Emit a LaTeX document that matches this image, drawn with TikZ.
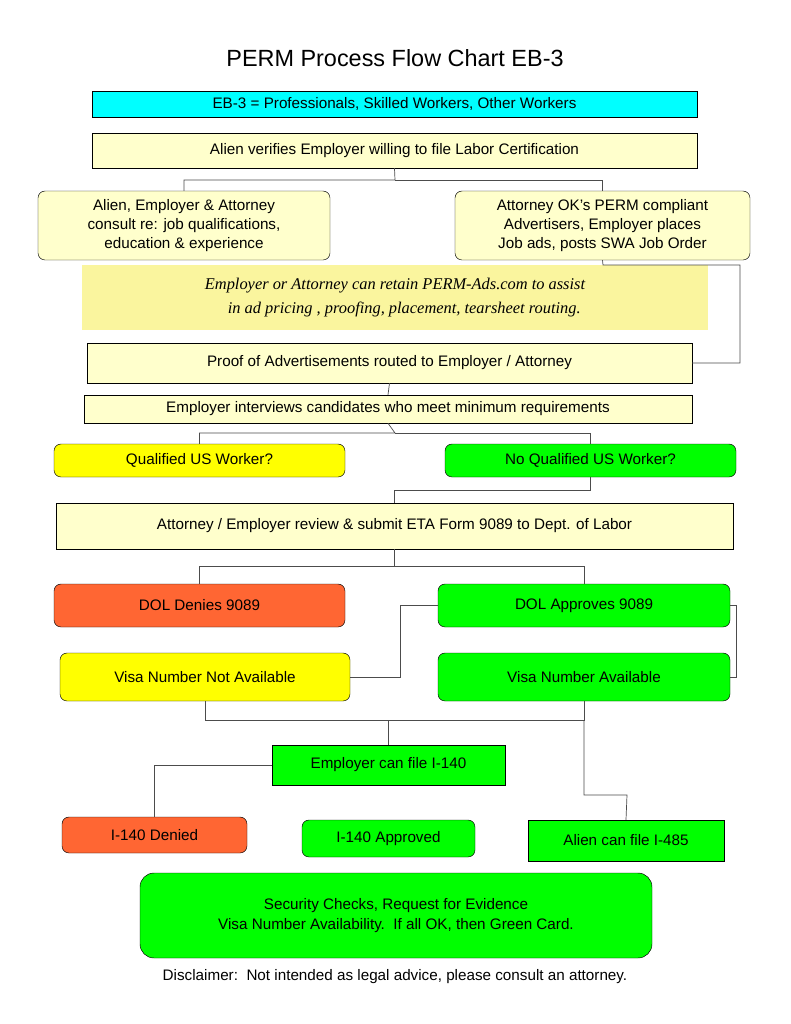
\documentclass[tikz,border=0pt]{standalone}
\usepackage{fontspec}
\setmainfont{Liberation Sans}
\newfontfamily\adfont{Liberation Serif}
\definecolor{cyanbox}{HTML}{00FFFF}
\definecolor{paleyellow}{HTML}{FFFFCC}
\definecolor{brightyellow}{HTML}{FFFF00}
\definecolor{brightgreen}{HTML}{00FF00}
\definecolor{denyred}{HTML}{FF6633}
\definecolor{adyellow}{HTML}{FAF59E}
\newcommand{\px}{0.03cm}

\begin{document}
\begin{tikzpicture}[x=\px, y=-\px,
    box/.style={draw, rectangle, inner sep=0pt, align=center, font=\fontsize{13}{16.5}\selectfont},
    rbox/.style={box, rounded corners=6pt},
    wire/.style={draw, black!70, line width=0.6pt}]
    \useasboundingbox[fill=white] (0,0) rectangle (791,1024);

    % Title and top boxes
    \node[font=\fontsize{20}{24}\selectfont] (title) at (395,58) {PERM Process Flow Chart EB-3};
    \node[box, fill=cyanbox, minimum width=605*\px, minimum height=26*\px] (eb) at (394.5,104) {EB-3 = Professionals, Skilled Workers, Other Workers};
    \node[box, fill=paleyellow, minimum width=605*\px, minimum height=35*\px] (verify) at (394.5,150.5) {Alien verifies Employer willing to file Labor Certification};
    \node[rbox, fill=paleyellow, minimum width=292*\px, minimum height=69*\px] (consult) at (184,225.5) {Alien, Employer \& Attorney\\consult re: job qualifications,\\education \& experience};
    \node[rbox, fill=paleyellow, minimum width=295*\px, minimum height=69*\px] (ads) at (602.5,225.5) {Attorney OK's PERM compliant\\Advertisers, Employer places\\Job ads, posts SWA Job Order};
    \node[fill=adyellow, minimum width=626*\px, minimum height=65*\px, inner sep=0pt, align=left, font=\adfont\itshape\fontsize{14}{20}\selectfont] (retain) at (395,297.5) {Employer or Attorney can retain PERM-Ads.com to assist\\\hspace{1.4em}in ad pricing , proofing, placement, tearsheet routing.};
    \node[box, fill=paleyellow, minimum width=605*\px, minimum height=40*\px] (proof) at (389.5,363) {Proof of Advertisements routed to Employer / Attorney};
    \node[box, fill=paleyellow, minimum width=608*\px, minimum height=28*\px] (interview) at (388,409) {Employer interviews candidates who meet minimum requirements};

    % Recruitment result
    \node[rbox, fill=brightyellow, minimum width=291*\px, minimum height=33*\px] (qual) at (199.5,460.5) {Qualified US Worker?};
    \node[rbox, fill=brightgreen, minimum width=291*\px, minimum height=33*\px] (noqual) at (590.5,460.5) {No Qualified US Worker?};
    \node[box, fill=paleyellow, minimum width=677*\px, minimum height=46*\px] (submit) at (394.5,526) {Attorney / Employer review \& submit ETA Form 9089 to Dept. of Labor};

    % DOL decision
    \node[rbox, fill=denyred, minimum width=291*\px, minimum height=43*\px] (deny) at (199.5,605.5) {DOL Denies 9089};
    \node[rbox, fill=brightgreen, minimum width=292*\px, minimum height=43*\px] (approve) at (584,605.5) {DOL Approves 9089};
    \node[rbox, fill=brightyellow, minimum width=290*\px, minimum height=48*\px] (novisa) at (205,677) {Visa Number Not Available};
    \node[rbox, fill=brightgreen, minimum width=292*\px, minimum height=48*\px] (visa) at (584,677) {Visa Number Available};

    % I-140 and I-485
    \node[box, fill=brightgreen, minimum width=233*\px, minimum height=40*\px] (file140) at (388.5,765) {Employer can file I-140};
    \node[rbox, fill=denyred, minimum width=185*\px, minimum height=36*\px] (deny140) at (154.5,835) {I-140 Denied};
    \node[rbox, fill=brightgreen, minimum width=173*\px, minimum height=37*\px] (ok140) at (388.5,838.5) {I-140 Approved};
    \node[box, fill=brightgreen, minimum width=196*\px, minimum height=41*\px] (file485) at (626,840.5) {Alien can file I-485};
    \node[rbox, rounded corners=12pt, fill=brightgreen, minimum width=512*\px, minimum height=85*\px] (checks) at (396,915.5) {Security Checks, Request for Evidence\\Visa Number Availability.\ \ If all OK, then Green Card.};
    \node[font=\fontsize{13}{16}\selectfont] (disclaimer) at (395,977) {Disclaimer:\ \ Not intended as legal advice, please consult an attorney.};

    % Connectors
    \coordinate (split1) at (395,180);
    \draw[wire] (verify.south) -- (split1) -| (consult.north);
    \draw[wire] (split1) -| (ads.north);
    \draw[wire] (ads.south) -- (603,265) -- (740,265) |- (proof.east);
    \draw[wire] (proof.south) -- (interview.north);
    \coordinate (split2) at (395,433);
    \draw[wire] (interview.south) -- (split2) -| (qual.north);
    \draw[wire] (split2) -| (noqual.north);
    \draw[wire] (noqual.south) -- (590.5,490) -- (394.5,490) -- (submit.north);
    \coordinate (split3) at (394.5,566);
    \draw[wire] (submit.south) -- (split3) -| (deny.north);
    \draw[wire] (split3) -| (approve.north);
    \draw[wire] (approve.west) -- (400,605.5) |- (novisa.east);
    \draw[wire] (approve.east) -- (736,605.5) |- (visa.east);
    \draw[wire] (novisa.south) -- (205,720) -| (visa.south);
    \coordinate (split4) at (388.5,720);
    \draw[wire] (split4) -- (file140.north);
    \draw[wire] (file140.west) -| (deny140.north);
    \draw[wire] (584,720) -- (584,795) -- (627,795) -- (file485.north);
\end{tikzpicture}
\end{document}
